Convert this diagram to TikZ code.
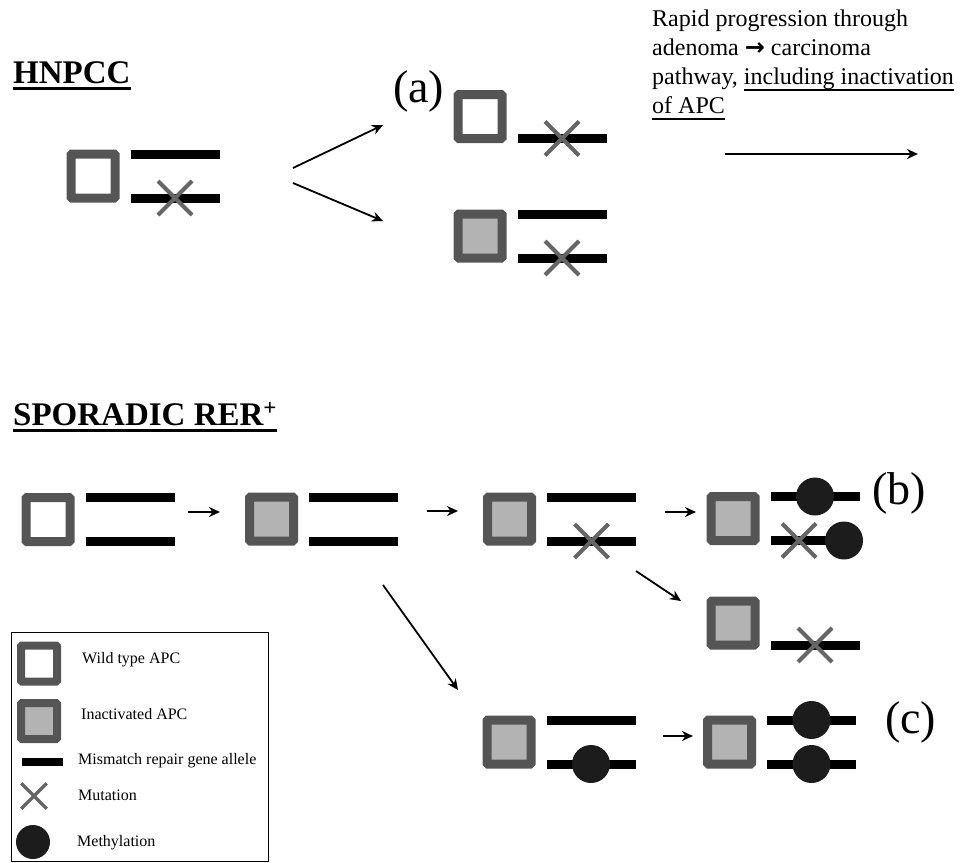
\documentclass[tikz,border=0pt]{standalone}
\usepackage{fontspec}
\setmainfont{Liberation Serif}
\newfontfamily\arrowfont{DejaVu Sans}
\usetikzlibrary{positioning, shapes.misc, arrows.meta}

\newsavebox{\undlbox}
\newcommand{\undl}[2][2.4pt]{\sbox{\undlbox}{#2}%
  \rlap{\rule[-6.5pt]{\wd\undlbox}{#1}}\usebox{\undlbox}}

\definecolor{boxgray}{HTML}{555555}
\definecolor{apcfill}{HTML}{B3B3B3}
\definecolor{crossgray}{HTML}{666666}
\definecolor{methylblack}{HTML}{1C1C1C}

\tikzset{
    apc/.style={draw=boxgray, fill=white, line width=9pt, rounded corners=1pt,
                minimum size=44pt, inner sep=0pt},
    inactive/.style={apc, fill=apcfill},
    allele/.style={fill=black, minimum width=89pt, minimum height=9pt,
                   inner sep=0pt, outer sep=0pt},
    mutation/.style={cross out, draw=crossgray, line width=4pt,
                     minimum size=30pt, inner sep=0pt},
    methyl/.style={circle, fill=methylblack, minimum size=38pt, inner sep=0pt},
    arr/.style={-{Stealth[length=11pt, width=10pt]}, line width=1.8pt},
    heading/.style={anchor=base west, inner sep=0pt,
                    font=\fontsize{33}{38}\selectfont\bfseries},
    panel/.style={anchor=base west, inner sep=0pt,
                  font=\fontsize{46}{50}\selectfont},
    keytext/.style={anchor=base west, inner sep=0pt,
                    font=\fontsize{16}{19}\selectfont}
}

\begin{document}
\begin{tikzpicture}[x=1pt, y=-1pt]
    \useasboundingbox (0,0) rectangle (968,862);

    % HNPCC
    \node[heading] (hnpcc) at (13,83) {\undl[2.6pt]{HNPCC}};

    \node[apc] (h0) at (93,176) {};
    \node[allele, right=11pt of h0.north east, anchor=north west] (h0a) {};
    \node[allele, right=11pt of h0.south east, anchor=south west] (h0b) {};
    \node[mutation] (h0x) at (h0b) {};

    \coordinate (hup0) at (293,168);
    \coordinate (hup1) at (383,125);
    \coordinate (hdn0) at (293,183);
    \coordinate (hdn1) at (383,221);
    \draw[arr] (hup0) -- (hup1);
    \draw[arr] (hdn0) -- (hdn1);

    \node[panel] (pa) at (393,102) {(a)};

    \node[apc] (a1) at (480,116.5) {};
    \node[allele, right=11pt of a1.south east, anchor=south west] (a1b) {};
    \node[mutation] (a1x) at (a1b) {};

    \node[inactive] (a2) at (480,236) {};
    \node[allele, right=11pt of a2.north east, anchor=north west] (a2a) {};
    \node[allele, right=11pt of a2.south east, anchor=south west] (a2b) {};
    \node[mutation] (a2x) at (a2b) {};

    \node[anchor=north west, align=left, inner sep=0pt,
          font=\fontsize{24}{29}\selectfont] (rapid) at (652,9.5)
    {Rapid progression through\\
     adenoma {\arrowfont\bfseries\fontsize{24}{29}\selectfont →} carcinoma\\
     pathway, \undl[1.8pt]{including inactivation}\\
     \undl[1.8pt]{of APC}};

    \coordinate (rp0) at (725,154);
    \coordinate (rp1) at (918,154);
    \draw[arr, line width=2.4pt] (rp0) -- (rp1);

    % Sporadic RER+
    \node[heading] (sporadic) at (13,425) {\undl[2.6pt]{SPORADIC RER\textsuperscript{+}}};

    \node[apc] (s1) at (48,519.5) {};
    \node[allele, right=11pt of s1.north east, anchor=north west] (s1a) {};
    \node[allele, right=11pt of s1.south east, anchor=south west] (s1b) {};

    \node[inactive] (s2) at (271.5,519) {};
    \node[allele, right=11pt of s2.north east, anchor=north west] (s2a) {};
    \node[allele, right=11pt of s2.south east, anchor=south west] (s2b) {};

    \node[inactive] (s3) at (509.5,519) {};
    \node[allele, right=11pt of s3.north east, anchor=north west] (s3a) {};
    \node[allele, right=11pt of s3.south east, anchor=south west] (s3b) {};
    \node[mutation] (s3x) at (s3b) {};

    \node[inactive] (s4) at (733,518.5) {};
    \node[allele, right=11pt of s4.north east, anchor=north west] (s4a) {};
    \node[allele, right=11pt of s4.south east, anchor=south west] (s4b) {};
    \node[methyl] (s4m) at (s4a) {};
    \node[mutation] (s4x) at ([xshift=-16pt]s4b.center) {};
    \node[methyl] (s4n) at ([xshift=29pt]s4b.center) {};
    \node[panel] (pb) at (872,504) {(b)};

    \node[inactive] (s5) at (733,623) {};
    \node[allele, right=11pt of s5.south east, anchor=south west] (s5b) {};
    \node[mutation] (s5x) at (s5b) {};

    \node[inactive] (s6) at (509,742) {};
    \node[allele, right=11pt of s6.north east, anchor=north west] (s6a) {};
    \node[allele, right=11pt of s6.south east, anchor=south west] (s6b) {};
    \node[methyl] (s6m) at (s6b) {};

    \node[inactive] (s7) at (729.5,742) {};
    \node[allele, right=11pt of s7.north east, anchor=north west] (s7a) {};
    \node[allele, right=11pt of s7.south east, anchor=south west] (s7b) {};
    \node[methyl] (s7m) at (s7a) {};
    \node[methyl] (s7n) at (s7b) {};
    \node[panel] (pc) at (885,733) {(c)};

    \coordinate (t12a) at (188,512);
    \coordinate (t12b) at (220,512);
    \coordinate (t23a) at (427,511);
    \coordinate (t23b) at (458,511);
    \coordinate (t34a) at (665,512);
    \coordinate (t34b) at (696,512);
    \coordinate (t35a) at (636,571);
    \coordinate (t35b) at (681,601);
    \coordinate (t26a) at (383,585);
    \coordinate (t26b) at (458,690);
    \coordinate (t67a) at (663,736);
    \coordinate (t67b) at (693,736);
    \draw[arr] (t12a) -- (t12b);
    \draw[arr] (t23a) -- (t23b);
    \draw[arr] (t34a) -- (t34b);
    \draw[arr] (t35a) -- (t35b);
    \draw[arr] (t26a) -- (t26b);
    \draw[arr] (t67a) -- (t67b);

    % legend
    \node[draw, line width=1.5pt, minimum width=257pt, minimum height=229pt,
          inner sep=0pt, anchor=north west] (legend) at (10.5,631.5) {};
    \node[apc, line width=8pt, minimum size=36pt] (kwild) at (39,663.5) {};
    \node[inactive, line width=8pt, minimum size=36pt] (kinact) at (39,721) {};
    \node[allele, minimum width=41pt, minimum height=8pt] (kallele) at (42.5,762) {};
    \node[mutation, line width=3.5pt, minimum size=22pt] (kmut) at (34,796) {};
    \node[methyl, minimum size=34pt] (kmeth) at (33,842) {};
    \node[keytext] (twild) at (82,663) {Wild type APC};
    \node[keytext] (tinact) at (81,719) {Inactivated APC};
    \node[keytext] (tallele) at (78,764) {Mismatch repair gene allele};
    \node[keytext] (tmut) at (78,800) {Mutation};
    \node[keytext] (tmeth) at (77,846) {Methylation};
\end{tikzpicture}
\end{document}
